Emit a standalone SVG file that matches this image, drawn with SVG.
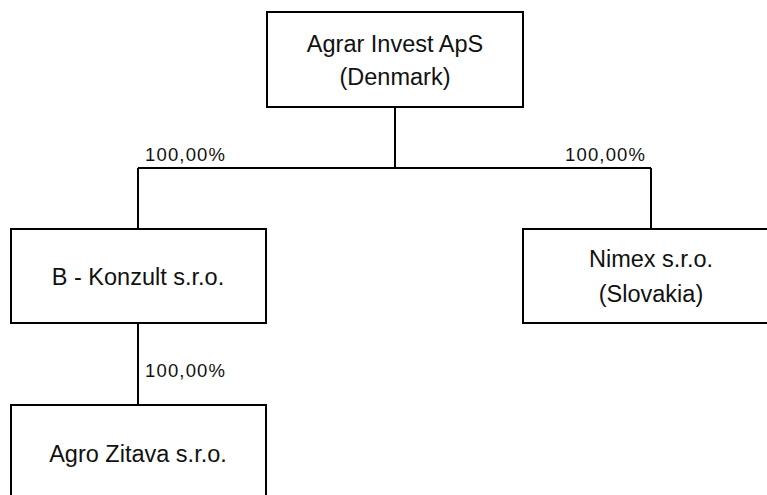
<svg xmlns="http://www.w3.org/2000/svg" width="767" height="495" viewBox="0 0 767 495">
<style>
.box{fill:#fff;stroke:#000;stroke-width:2}
.t{font-family:"Liberation Sans",Arial,sans-serif;font-size:23.5px;fill:#111;text-anchor:middle}
.p{font-family:"Liberation Sans",Arial,sans-serif;font-size:18.5px;fill:#111}
.c{stroke:#000;stroke-width:2;fill:none}
</style>
<rect width="767" height="495" fill="#fff"/>
<g id="connectors">
<path class="c" d="M395,108 V168 M138,168 H651 M138,168 V229 M651,168 V229 M138,324 V405"/>
<text class="p" x="145" y="161" textLength="80" lengthAdjust="spacing">100,00%</text>
<text class="p" x="565" y="161" textLength="80" lengthAdjust="spacing">100,00%</text>
<text class="p" x="145" y="377" textLength="80" lengthAdjust="spacing">100,00%</text>
</g>
<g id="agrar">
<rect class="box" x="267" y="12" width="256" height="95"/>
<text class="t" x="395" y="52">Agrar Invest ApS</text>
<text class="t" x="395" y="85">(Denmark)</text>
</g>
<g id="bkonzult">
<rect class="box" x="11" y="229" width="255" height="94"/>
<text class="t" x="138" y="285">B - Konzult s.r.o.</text>
</g>
<g id="nimex">
<rect class="box" x="523" y="229" width="256" height="94"/>
<text class="t" x="651" y="267">Nimex s.r.o.</text>
<text class="t" x="651" y="302">(Slovakia)</text>
</g>
<g id="agrozitava">
<rect class="box" x="11" y="405" width="255" height="120"/>
<text class="t" x="138" y="462">Agro Zitava s.r.o.</text>
</g>
</svg>
